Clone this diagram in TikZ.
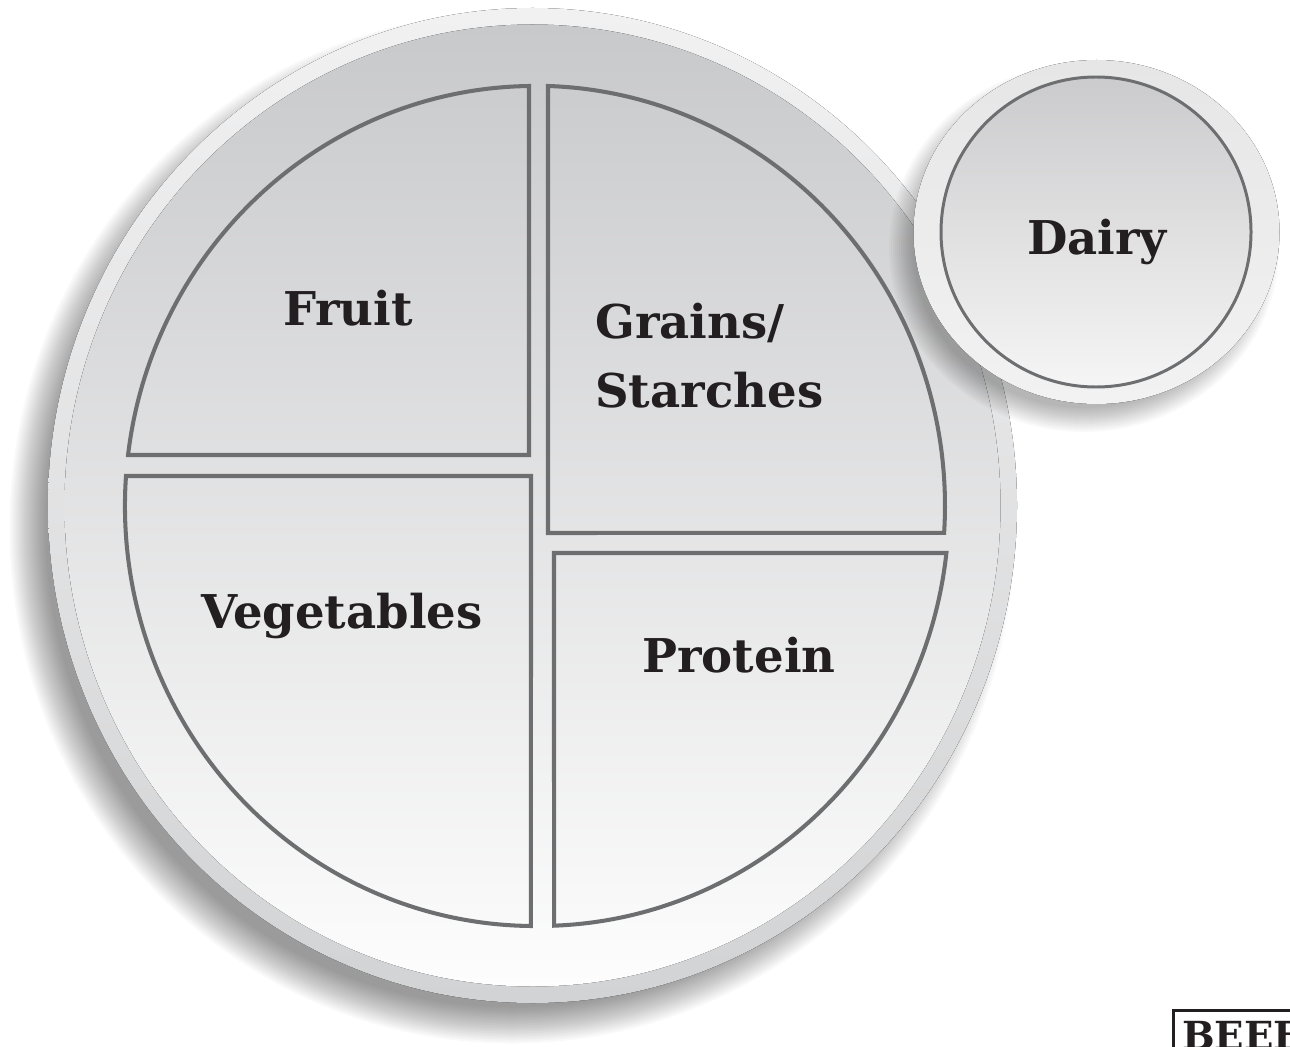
\documentclass[tikz,border=0pt]{standalone}
\usepackage{fontspec}
\setmainfont{DejaVu Serif}
\usetikzlibrary{positioning}

\definecolor{ink}{HTML}{231F20}
\definecolor{edge}{HTML}{6D6E70}
\definecolor{rimtop}{HTML}{F1F1F2}
\definecolor{rimbottom}{HTML}{D2D3D4}
\definecolor{facetop}{HTML}{C8C9CB}
\definecolor{facebottom}{HTML}{FDFDFD}
\definecolor{ringtop}{HTML}{E6E6E7}
\definecolor{ringbottom}{HTML}{F2F2F2}
\definecolor{dairytop}{HTML}{CBCBCD}
\definecolor{dairybottom}{HTML}{F5F5F5}

\tikzset{
    every node/.style={align=center,},
    foodtext/.style={font=\bfseries\fontsize{26.5}{39}\selectfont,text=ink,inner sep=0pt,},
    piece/.style={draw=edge,line width=2.3pt,line join=miter,},
    softshadow/.style={fill=black,opacity=0.025,},
}

\begin{document}
\begin{tikzpicture}[x=0.02cm,y=0.02cm]
    \fill[white] (0,0) rectangle (1290,1046);
    \useasboundingbox (0,0) rectangle (1290,1046);
    \clip (0,0) rectangle (1290,1046);

    % plate with its shadow
    \foreach \r in {0,2,...,36}
        \fill[softshadow] (512,518) ellipse [x radius=502.5-\r, y radius=515.5-\r];
    \fill[top color=rimtop, bottom color=rimbottom] (532.5,540.5) ellipse [x radius=484.5, y radius=497.5];
    \fill[top color=facetop, bottom color=facebottom] (532.5,540.5) ellipse [x radius=468, y radius=481];

    % the four sections
    \draw[piece] (529,591) -- (529,960) arc[start angle=90.84, end angle=173.03, x radius=410, y radius=420] -- cycle;
    \draw[piece] (548,513) -- (548,960) arc[start angle=88.18, end angle=-3.69, x radius=410, y radius=420] -- cycle;
    \draw[piece] (531,570) -- (126,570) arc[start angle=175.9, end angle=269.44, x radius=410, y radius=420] -- cycle;
    \draw[piece] (554,493) -- (946.4,493) arc[start angle=-6.43, end angle=-87.9, x radius=410, y radius=420] -- cycle;

    \node[foodtext, anchor=base] (fruit) at (348,721) {Fruit};
    \node[foodtext, align=left, anchor=north west] (grains) at (595,743) {Grains/\\Starches};
    \node[foodtext, anchor=base] (veg) at (342,418) {Vegetables};
    \node[foodtext, anchor=base] (protein) at (739,374) {Protein};

    % side dish
    \foreach \r in {0,2,...,24}
        \fill[softshadow] (1084,798) ellipse [x radius=195-\r, y radius=184-\r];
    \fill[top color=ringtop, bottom color=ringbottom] (1096.5,814) ellipse [x radius=183, y radius=172];
    \filldraw[draw=edge, line width=1.7pt, top color=dairytop, bottom color=dairybottom] (1096,814) circle [radius=155];
    \node[foodtext, anchor=base] (dairy) at (1097,791) {Dairy};

    \node[draw=ink, line width=1.6pt, anchor=north west, inner xsep=5pt, inner ysep=6pt, text=ink,
        font=\bfseries\fontsize{22}{22}\selectfont] (beef) at (1172,37) {BEEF};
\end{tikzpicture}
\end{document}
